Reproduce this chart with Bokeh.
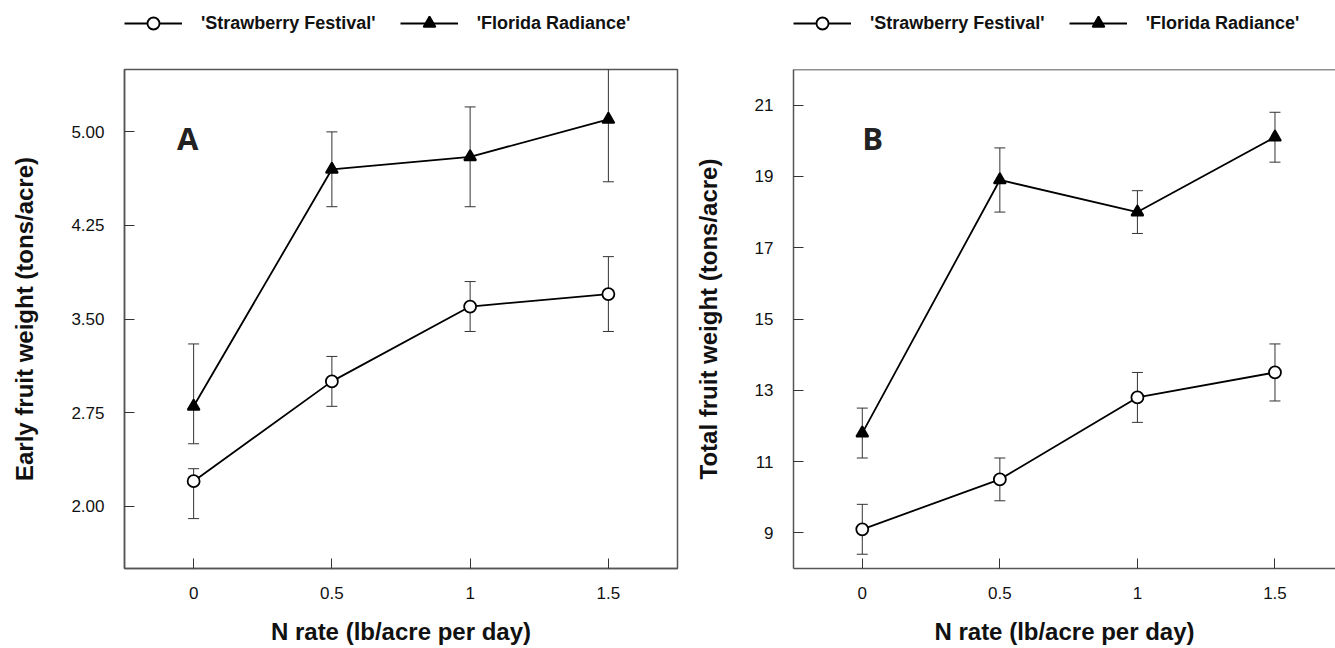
from bokeh.plotting import figure
from bokeh.layouts import row, column
from bokeh.models import (ColumnDataSource, Whisker, TeeHead, Legend, LegendItem,
                          Span, FixedTicker, Label, Range1d)
from bokeh.embed import file_html
from bokeh.resources import INLINE

# ---------------- data ----------------
n_rate = [0, 0.5, 1, 1.5]
x_tick_labels = ["0", "0.5", "1", "1.5"]
series_names = ["'Strawberry Festival'", "'Florida Radiance'"]

early_sf = [2.2, 3.0, 3.6, 3.7]
early_sf_upper = [2.3, 3.2, 3.8, 4.0]
early_sf_lower = [1.9, 2.8, 3.4, 3.4]
early_fr = [2.8, 4.7, 4.8, 5.1]
early_fr_upper = [3.3, 5.0, 5.2, 5.6]
early_fr_lower = [2.5, 4.4, 4.4, 4.6]
early_ticks = [2.0, 2.75, 3.5, 4.25, 5.0]
early_tick_labels = ["2.00", "2.75", "3.50", "4.25", "5.00"]

total_sf = [9.1, 10.5, 12.8, 13.5]
total_sf_upper = [9.8, 11.1, 13.5, 14.3]
total_sf_lower = [8.4, 9.9, 12.1, 12.7]
total_fr = [11.8, 18.9, 18.0, 20.1]
total_fr_upper = [12.5, 19.8, 18.6, 20.8]
total_fr_lower = [11.1, 18.0, 17.4, 19.4]
total_ticks = [9, 11, 13, 15, 17, 19, 21]
total_tick_labels = ["9", "11", "13", "15", "17", "19", "21"]

FONT = "Liberation Sans"
AXIS_COL = "#555555"
LEG_H = 65
MAIN_H = 583
STYLES = [("circle", "white"), ("triangle", "black")]


def make_legend_fig(width, border_left, border_right, series):
    # a strip above the panel that only holds the legend; the data lie outside
    # its (0..1) ranges, so only the legend glyphs are visible
    lf = figure(width=width, height=LEG_H, output_backend="svg", toolbar_location=None,
                x_axis_location=None, y_axis_location=None,
                x_range=Range1d(0, 1), y_range=Range1d(0, 1),
                min_border_left=border_left, min_border_right=border_right,
                min_border_top=0, min_border_bottom=0)
    lf.grid.visible = False
    lf.outline_line_color = None
    items = []
    for name, vals, (marker, fill) in zip(series_names, series, STYLES):
        src = ColumnDataSource(dict(x=n_rate, y=vals))
        lr = lf.line("x", "y", source=src, line_color="black", line_width=1.8)
        sr = lf.scatter("x", "y", source=src, marker=marker, size=12,
                        line_color="black", line_width=1.8, fill_color=fill)
        items.append(LegendItem(label=name, renderers=[lr, sr]))
    legend = Legend(items=items, orientation="horizontal", location=(0, LEG_H - 38),
                    margin=0, padding=0, spacing=24,
                    glyph_width=58, glyph_height=30, label_standoff=19,
                    label_text_font=FONT, label_text_font_style="bold",
                    label_text_font_size="18px", label_text_color="#111111",
                    border_line_color=None, background_fill_alpha=0)
    lf.add_layout(legend)
    return lf


def make_panel(width, border_left, border_right, x_end, y_start, y_end,
               sf, sf_up, sf_lo, fr, fr_up, fr_lo, yticks, ytick_labels,
               ytitle, letter, letter_x, letter_y, full_box):
    p = figure(width=width, height=MAIN_H, output_backend="svg", toolbar_location=None,
               x_range=Range1d(-0.25, x_end), y_range=Range1d(y_start, y_end),
               min_border_left=border_left, min_border_right=border_right,
               min_border_top=4, min_border_bottom=80)
    p.grid.visible = False
    p.background_fill_color = "white"
    p.border_fill_color = "white"
    if full_box:
        p.outline_line_color = AXIS_COL
        p.outline_line_width = 1.5
    else:
        p.outline_line_color = None
        p.add_layout(Span(location=y_end, dimension="width", line_color="#222222",
                          line_width=1.5))

    p.xaxis.ticker = FixedTicker(ticks=n_rate)
    p.xaxis.major_label_overrides = dict(zip(n_rate, x_tick_labels))
    p.yaxis.ticker = FixedTicker(ticks=yticks)
    p.yaxis.major_label_overrides = dict(zip(yticks, ytick_labels))
    for ax in (p.xaxis[0], p.yaxis[0]):
        ax.axis_line_color = AXIS_COL
        ax.axis_line_width = 1.5
        ax.major_tick_in = 10
        ax.major_tick_out = 0
        ax.major_tick_line_color = "#333333"
        ax.major_tick_line_width = 1
        ax.minor_tick_line_color = None
        ax.major_label_text_font = FONT
        ax.major_label_text_font_size = "17px"
        ax.major_label_text_color = "#111111"
        ax.axis_label_text_font = FONT
        ax.axis_label_text_font_style = "bold"
        ax.axis_label_text_font_size = "24px"
        ax.axis_label_text_color = "#111111"
    p.xaxis.major_label_standoff = 18
    p.xaxis.axis_label = "N rate (lb/acre per day)"
    p.xaxis.axis_label_standoff = 16
    p.yaxis.major_label_standoff = 20
    p.yaxis.axis_label = ytitle
    p.yaxis.axis_label_standoff = 30

    for vals, up, lo, (marker, fill) in ((sf, sf_up, sf_lo, STYLES[0]),
                                         (fr, fr_up, fr_lo, STYLES[1])):
        src = ColumnDataSource(dict(x=n_rate, y=vals, upper=up, lower=lo))
        w = Whisker(source=src, base="x", upper="upper", lower="lower",
                    line_color="#333333", line_width=1, level="underlay",
                    upper_head=TeeHead(size=11, line_color="#333333", line_width=1),
                    lower_head=TeeHead(size=11, line_color="#333333", line_width=1))
        p.add_layout(w)
        p.line("x", "y", source=src, line_color="black", line_width=1.8)
        p.scatter("x", "y", source=src, marker=marker, size=12,
                  line_color="black", line_width=1.8, fill_color=fill)

    p.add_layout(Label(x=letter_x, y=letter_y, text=letter, text_font="Open Sans",
                       text_font_style="bold", text_font_size="31px",
                       text_color="#222222", text_baseline="middle", text_align="left"))
    return column(make_legend_fig(width, border_left, border_right, [sf, fr]), p)


c1 = make_panel(690, 124, 13, 1.75, 1.5, 5.5,
                early_sf, early_sf_upper, early_sf_lower,
                early_fr, early_fr_upper, early_fr_lower,
                early_ticks, early_tick_labels,
                "Early fruit weight (tons/acre)", "A", -0.06, 4.95, True)
c2 = make_panel(645, 103, 0, 1.72, 8, 22,
                total_sf, total_sf_upper, total_sf_lower,
                total_fr, total_fr_upper, total_fr_lower,
                total_ticks, total_tick_labels,
                "Total fruit weight (tons/acre)", "B", 0.0, 20.09, False)

layout = row(c1, c2)
open("out.html", "w").write(file_html(layout, INLINE))
